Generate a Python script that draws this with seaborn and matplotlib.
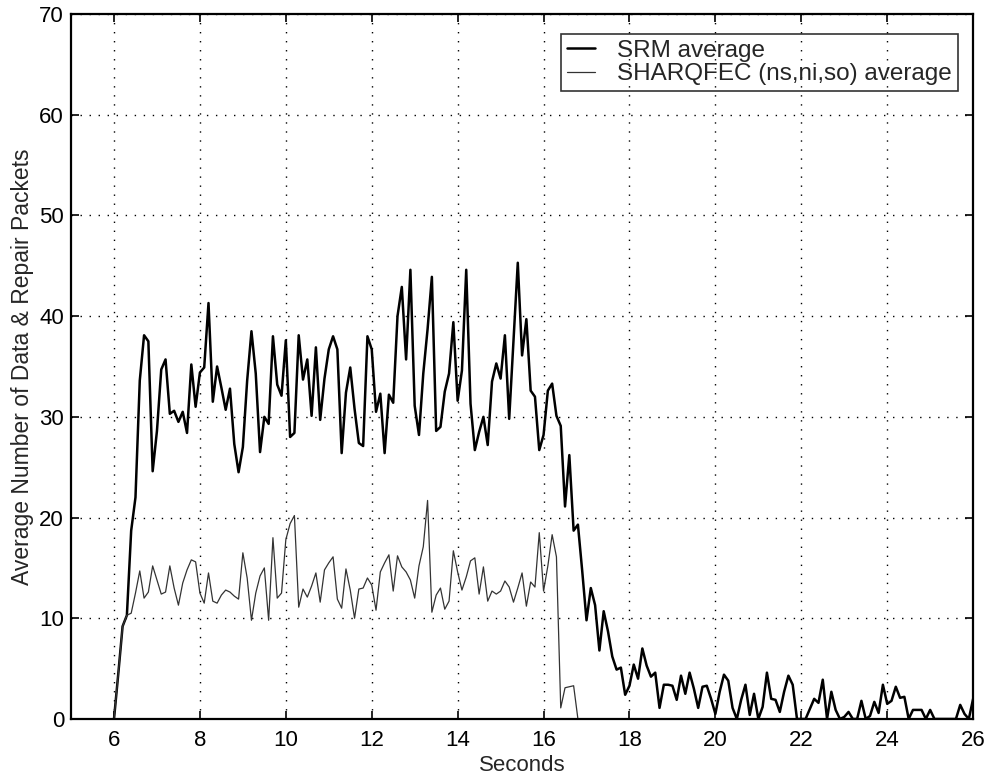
import numpy as np
import pandas as pd
import seaborn as sns
import matplotlib.pyplot as plt

# sampled every 0.1 s starting at t = 6.0
t_start, t_step = 6.0, 0.1

srm_avg = [
    0, 4.5, 9.2, 10.3, 18.7, 22, 33.6, 38.1, 37.5, 24.6,
    28.6, 34.7, 35.7, 30.3, 30.6, 29.5, 30.5, 28.4, 35.2, 31,
    34.4, 34.9, 41.3, 31.5, 35, 32.9, 30.7, 32.8, 27.3, 24.5,
    27, 33.6, 38.5, 34.3, 26.5, 30, 29.3, 38, 33.2, 32.1,
    37.6, 28, 28.4, 38.1, 33.7, 35.7, 30.1, 36.9, 29.7, 33.8,
    36.7, 38, 36.7, 26.4, 32.4, 34.9, 30.8, 27.4, 27.1, 38,
    36.7, 30.5, 32.3, 26.4, 32.2, 31.4, 40, 42.9, 35.7, 44.6,
    31.1, 28.2, 34.3, 38.7, 43.9, 28.6, 29, 32.5, 34.3, 39.4,
    31.6, 34.6, 44.6, 31.3, 26.7, 28.5, 30, 27.2, 33.5, 35.3,
    33.8, 38.1, 29.8, 37.5, 45.3, 36.1, 39.7, 32.6, 32, 26.7,
    28.2, 32.6, 33.3, 30.1, 29.1, 21.1, 26.2, 18.7, 19.3, 14.7,
    9.8, 13, 11.3, 6.8, 10.7, 8.7, 6.2, 4.9, 5.1, 2.4,
    3.3, 5.4, 4, 7, 5.3, 4.2, 4.6, 1.1, 3.4, 3.4,
    3.3, 1.9, 4.3, 2.5, 4.6, 3, 1.1, 3.2, 3.3, 2,
    0.5, 2.7, 4.4, 3.8, 1.1, 0, 1.9, 3.4, 0.4, 2.5,
    0, 1.2, 4.6, 2, 1.9, 0.7, 2.7, 4.3, 3.4, 0,
    0, 0, 1, 2, 1.6, 3.9, 0, 2.7, 0.9, 0,
    0.2, 0.7, 0, 0, 1.8, 0, 0.3, 1.7, 0.6, 3.4,
    1.5, 1.8, 3.2, 2.1, 2.2, 0, 0.9, 0.9, 0.9, 0,
    0.9, 0, 0, 0, 0, 0, 0, 1.4, 0.5, 0,
    2,
]

sharqfec_avg = [
    0, 4.5, 9.2, 10.3, 10.5, 12.5, 14.7, 12, 12.6, 15.2,
    13.8, 12.4, 12.6, 15.2, 13, 11.3, 13.5, 14.8, 15.8, 15.6,
    12.5, 11.5, 14.5, 11.7, 11.5, 12.3, 12.8, 12.6, 12.2, 11.9,
    16.5, 14, 9.8, 12.5, 14.2, 15, 9.8, 18, 12, 12.5,
    17.8, 19.4, 20.2, 11.1, 12.9, 12.1, 13.2, 14.5, 11.6, 14.8,
    15.5, 16.1, 11.9, 11, 14.9, 12.8, 10, 12.9, 13, 14,
    13.3, 10.8, 14.6, 15.5, 16.3, 12.7, 16.2, 15.1, 14.6, 13.8,
    12, 15.2, 17.1, 21.7, 10.6, 12.3, 13, 10.9, 11.7, 16.7,
    14.6, 12.8, 14.1, 15.7, 16, 12.4, 15.1, 11.7, 12.7, 12.4,
    12.7, 13.7, 13.1, 11.6, 13, 14.5, 11.2, 13.6, 13.1, 18.5,
    12.7, 15.2, 18.3, 16.1, 1.1, 3.1, 3.2, 3.3, 0,
]

x_ticks = list(range(6, 27, 2))
y_ticks = list(range(0, 71, 10))

srm_df = pd.DataFrame({
    'time': np.round(t_start + t_step * np.arange(len(srm_avg)), 1),
    'value': srm_avg,
})
sharq_df = pd.DataFrame({
    'time': np.round(t_start + t_step * np.arange(len(sharqfec_avg)), 1),
    'value': sharqfec_avg,
})

sns.set_style('ticks')
plt.rcParams['font.family'] = ['Liberation Sans', 'DejaVu Sans']

fig = plt.figure(figsize=(9.95, 7.82), dpi=100)
ax = fig.add_axes([0.0714, 0.0806, 0.9066, 0.9015])

sns.lineplot(data=srm_df, x='time', y='value', ax=ax, color='black',
             linewidth=1.8, label='SRM average')
sns.lineplot(data=sharq_df, x='time', y='value', ax=ax, color='#333333',
             linewidth=0.9, label='SHARQFEC (ns,ni,so) average')

ax.set_xlim(5, 26)
ax.set_ylim(0, 70)
ax.set_xticks(x_ticks)
ax.set_yticks(y_ticks)
ax.grid(True, color='black', linestyle=(0, (1, 5.5)), linewidth=1.0)
ax.tick_params(direction='in', length=6, width=1.2, labelsize=16,
               top=True, right=True, colors='black')
ax.tick_params(axis='x', pad=8)
ax.tick_params(axis='y', pad=5)
for s in ax.spines.values():
    s.set_linewidth(1.6)
    s.set_color('black')

ax.set_xlabel('Seconds', fontsize=16, labelpad=3)
ax.set_ylabel('Average Number of Data & Repair Packets', fontsize=16.5, labelpad=4)

# MATLAB-style legend: thin black box, grid shows through
leg = ax.legend(loc='upper right', bbox_to_anchor=(0.983, 0.972), fontsize=17.5,
                frameon=True, fancybox=False, borderaxespad=0, handlelength=1.15,
                handletextpad=0.9, borderpad=0.25, labelspacing=0.05)
leg.get_frame().set_edgecolor('black')
leg.get_frame().set_linewidth(1.2)
leg.get_frame().set_facecolor('none')

fig.savefig('out.png', dpi=100)
